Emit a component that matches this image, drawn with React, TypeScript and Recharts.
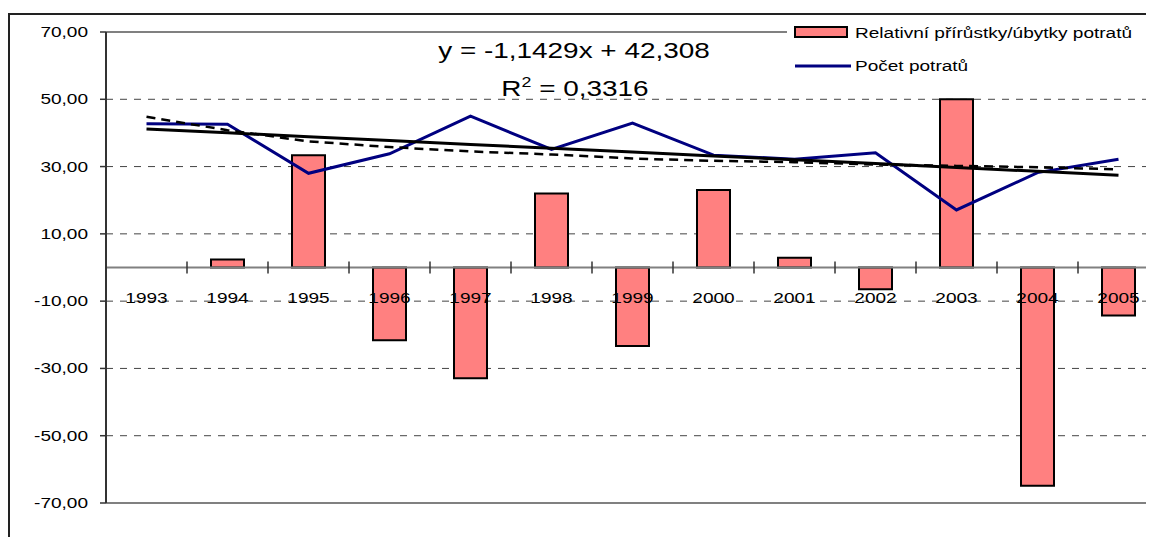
import {
  ComposedChart, Bar, Line, XAxis, YAxis, CartesianGrid, ReferenceLine, Legend,
} from "recharts";

const years = ["1993", "1994", "1995", "1996", "1997", "1998", "1999", "2000", "2001", "2002", "2003", "2004", "2005"];
const relChange = [null, 2.4, 33.4, -21.6, -32.9, 22.0, -23.3, 23.0, 2.9, -6.5, 50.0, -64.9, -14.3];
const abortions = [42.7, 42.6, 28.0, 33.8, 45.0, 35.1, 42.9, 33.4, 32.2, 34.1, 17.1, 28.2, 32.2];
const linTrend = [41.17, 40.02, 38.88, 37.74, 36.59, 35.45, 34.31, 33.17, 32.02, 30.88, 29.74, 28.59, 27.45];
const dashTrend = [44.8, 40.8, 37.5, 35.8, 34.5, 33.6, 32.4, 31.7, 31.3, 30.6, 30.2, 29.8, 29.2];
const yTicks = [-70, -50, -30, -10, 10, 30, 50, 70];
const gridValues = [-50, -30, -10, 10, 30, 50];

const data = years.map((year, i) => ({
  year,
  change: relChange[i],
  count: abortions[i],
  trend: linTrend[i],
  dash: dashTrend[i],
}));

const W = 1172;
const H = 529;
const TOP = 24;
const Y_W = 98;
const RIGHT = 21;
const PLOT_W = W - Y_W - RIGHT;
const PLOT_H = 471;
const ZERO_Y = TOP + PLOT_H / 2;
const BAND = PLOT_W / years.length;
const SX = 1.27; // the source image is stretched horizontally
const FONT = "'Liberation Sans', Arial, sans-serif";

function fmt(v: number) {
  return v.toFixed(2).replace(".", ",");
}

function YTick({ x, y, payload }: any) {
  return (
    <text transform={`translate(${x} ${y + 5}) scale(${SX} 1)`} textAnchor="end"
      fontSize={15} fontFamily={FONT} fill="#000">
      {fmt(payload.value)}
    </text>
  );
}

function XTick({ x, payload, index }: any) {
  return (
    <g>
      {index > 0 && (
        <line x1={x - BAND / 2} x2={x - BAND / 2} y1={ZERO_Y - 6} y2={ZERO_Y + 6} stroke="#333" strokeWidth={1.5} />
      )}
      <text transform={`translate(${x} ${ZERO_Y + 35}) scale(${SX} 1)`} textAnchor="middle"
        fontSize={15} fontFamily={FONT} fill="#000">
        {payload.value}
      </text>
    </g>
  );
}

function LegendBox() {
  return (
    <svg width={380} height={72} style={{ display: "block", background: "#fff" }}>
      <rect x={8} y={5} width={52} height={10} fill="#FF8080" stroke="#000" strokeWidth={2} />
      <text transform={`translate(68 16) scale(${SX} 1)`} fontSize={15} fontFamily={FONT} fill="#000">
        Relativní přírůstky/úbytky potratů
      </text>
      <line x1={8} x2={64} y1={44} y2={44} stroke="#000080" strokeWidth={3} />
      <text transform={`translate(68 49) scale(${SX} 1)`} fontSize={15} fontFamily={FONT} fill="#000">
        Počet potratů
      </text>
    </svg>
  );
}

export default function App() {
  return (
    <div style={{ position: "relative", width: 1146, height: H, overflow: "hidden", fontFamily: FONT }}>
      <div style={{
        position: "absolute", left: 0, top: 5, width: 1200, height: 600,
        borderLeft: "2px solid #222", borderTop: "2px solid #222",
      }} />
      <ComposedChart width={W} height={H} data={data}
        margin={{ top: TOP, right: RIGHT, left: 0, bottom: H - TOP - PLOT_H - 1 }}>
        <CartesianGrid vertical={false} horizontalValues={gridValues} stroke="#444" strokeDasharray="7 7" />
        <XAxis dataKey="year" type="category" interval={0} axisLine={false} tickLine={false}
          height={1} tick={<XTick />} />
        <YAxis type="number" domain={[-70, 70]} ticks={yTicks} width={Y_W} tickSize={6} tickMargin={12}
          axisLine={{ stroke: "#333", strokeWidth: 2 }} tickLine={{ stroke: "#333", strokeWidth: 1.5 }}
          tick={<YTick />} allowDataOverflow />
        <ReferenceLine y={70} stroke="#808080" strokeWidth={2} />
        <ReferenceLine y={-70} stroke="#808080" strokeWidth={2} />
        <ReferenceLine y={0} stroke="#808080" strokeWidth={2} />
        <Legend layout="vertical" align="center" verticalAlign="middle"
          wrapperStyle={{ top: 14, left: 779, width: 380 }} content={() => <LegendBox />} />
        <Bar dataKey="change" barSize={33} fill="#FF8080" stroke="#000" strokeWidth={2} isAnimationActive={false} />
        <Line dataKey="count" stroke="#000080" strokeWidth={3} dot={false} isAnimationActive={false} />
        <Line dataKey="dash" stroke="#000" strokeWidth={2.5} strokeDasharray="9 6" dot={false} isAnimationActive={false} />
        <Line dataKey="trend" stroke="#000" strokeWidth={3} dot={false} isAnimationActive={false} />
      </ComposedChart>
      <svg width={1146} height={120} style={{ position: "absolute", left: 0, top: 0, pointerEvents: "none" }}>
        <text transform={`translate(566 49.5) scale(${SX} 1)`} textAnchor="middle" fontSize={22} fontFamily={FONT} fill="#000">
          y = -1,1429x + 42,308
        </text>
        <text transform={`translate(567 88) scale(${SX} 1)`} textAnchor="middle" fontSize={22} fontFamily={FONT} fill="#000">
          R<tspan fontSize={14} dy={-9}>2</tspan><tspan dy={9}> = 0,3316</tspan>
        </text>
      </svg>
    </div>
  );
}
